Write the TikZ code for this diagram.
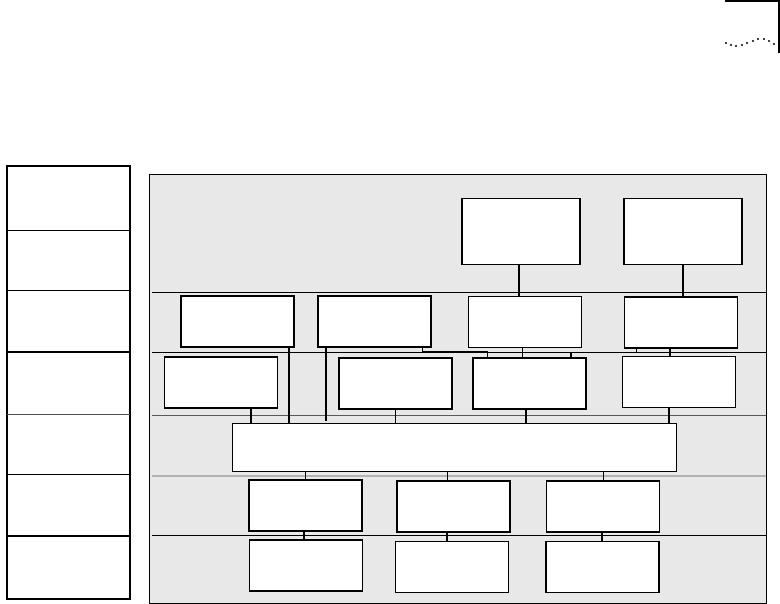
\documentclass[tikz,border=0pt]{standalone}
\usepackage{tikz}
\usetikzlibrary{calc,backgrounds}
\definecolor{fond}{RGB}{232,232,232}

\begin{document}
\begin{tikzpicture}[x=1pt,y=-1pt]
  \tikzstyle{bloc}=[draw,fill=white,line width=1.9pt,minimum width=113pt,minimum height=51pt,inner sep=0pt]
  \tikzstyle{fin}=[line width=.9pt]
  \tikzstyle{lien}=[line width=1.8pt]
  \useasboundingbox (0,0) rectangle (780,604);
  % Coin en haut a droite
  \draw[line width=1.8pt] (725,0.9) -- (779,0.9) -- (779,53);
  \foreach \x/\y in {726/43,731/45,736/46,742/45,747/43,753/41,758/39,764/39,769/41,774/44}
    \fill (\x,\y) circle (1.2);
  % Colonne de gauche
  \draw[line width=1.9pt] (7,166) rectangle (130,599);
  \draw[fin] (7,230) -- (130,230);
  \draw[fin] (7,290.5) -- (130,290.5);
  \draw[lien] (7,352) -- (130,352);
  \draw[line width=1pt,black!70] (7,414) -- (130,414);
  \draw[lien] (7,474.5) -- (130,474.5);
  \draw[lien] (7,536) -- (130,536);
  % Panneau gris
  \draw[fill=fond,line width=.8pt] (149,174) rectangle (766,603);
  \draw[fin] (152,292.5) -- (766,292.5);
  \draw[fin] (152,352) -- (766,352);
  \draw[fin,black!65] (152,415) -- (766,415);
  \draw[line width=1.1pt,black!30] (152,476) -- (766,476);
  \draw[fin] (152,535.5) -- (766,535.5);
  % Blocs
  \node[bloc,minimum width=118pt,minimum height=66pt] (r1a) at (521,231.5) {};
  \node[bloc,minimum width=118pt,minimum height=66pt] (r1b) at (683,231.5) {};
  \node[bloc] (r2a) at (237.5,321.5) {};
  \node[bloc] (r2b) at (374.5,321.5) {};
  \node[bloc,fin] (r2c) at (525,321.5) {};
  \node[bloc] (r2d) at (681,322.5) {};
  \node[bloc] (r3a) at (221,382.5) {};
  \node[bloc] (r3b) at (395.5,383.5) {};
  \node[bloc] (r3c) at (529.5,383.5) {};
  \node[bloc,fin] (r3d) at (678.5,381.5) {};
  \node[bloc,fin,minimum width=444pt,minimum height=48pt] (bus) at (454,447) {};
  \node[bloc] (r5a) at (305.5,505.5) {};
  \node[bloc] (r5b) at (453.5,506.5) {};
  \node[bloc] (r5c) at (603,506.5) {};
  \node[bloc,line width=1.4pt] (r6a) at (306,565.5) {};
  \node[bloc] (r6b) at (452,567) {};
  \node[bloc] (r6c) at (602.5,567) {};
  % Liaisons
  \draw[lien] ([xshift=-2pt]r1a.south) -- ([xshift=-2pt]r1a.south |- r2c.north);
  \draw[lien] (r1b.south) -- (r1b.south |- r2d.north);
  \draw[lien] ([xshift=-6pt]r2a.south east) -- ([xshift=-6pt]r2a.south east |- bus.north);
  \draw[lien] ([xshift=9pt]r2b.south west) -- ([xshift=9pt,yshift=2pt]r2b.south west |- bus.north);
  \draw[fin] ([xshift=-10pt]r2b.south east) -- ++(0,4) -| ([xshift=15pt]r3c.north west);
  \draw[fin] ([xshift=-3pt]r2c.south) -- ([xshift=-3pt]r2c.south |- r3c.north);
  \draw[lien] ([xshift=13pt]r2d.south west) -- ++(0,3.5) -| ([xshift=-16pt]r3c.north east);
  \draw[lien] ([xshift=-11pt]r2d.south) -- ([xshift=-11pt]r2d.south |- r3d.north);
  \draw[lien] ([xshift=30pt]r3a.south) -- ([xshift=30pt]r3a.south |- bus.north);
  \draw[lien] (r3b.south) -- (r3b.south |- bus.north);
  \draw[lien] ([xshift=-3.5pt]r3c.south) -- ([xshift=-3.5pt]r3c.south |- bus.north);
  \draw[lien] ([xshift=-9.5pt]r3d.south) -- ([xshift=-9.5pt]r3d.south |- bus.north);
  \draw[fin] (r5a.north |- bus.south) -- (r5a.north);
  \draw[fin] ([xshift=-6.5pt]r5b.north |- bus.south) -- ([xshift=-6.5pt]r5b.north);
  \draw[fin] (r5c.north |- bus.south) -- (r5c.north);
  \draw[lien] ([xshift=-1.5pt]r5a.south) -- ([xshift=-1.5pt]r5a.south |- r6a.north);
  \draw[lien] ([xshift=-6.5pt]r5b.south) -- ([xshift=-6.5pt]r5b.south |- r6b.north);
  \draw[lien] ([xshift=-1pt]r5c.south) -- ([xshift=-1pt]r5c.south |- r6c.north);
\end{tikzpicture}
\end{document}
